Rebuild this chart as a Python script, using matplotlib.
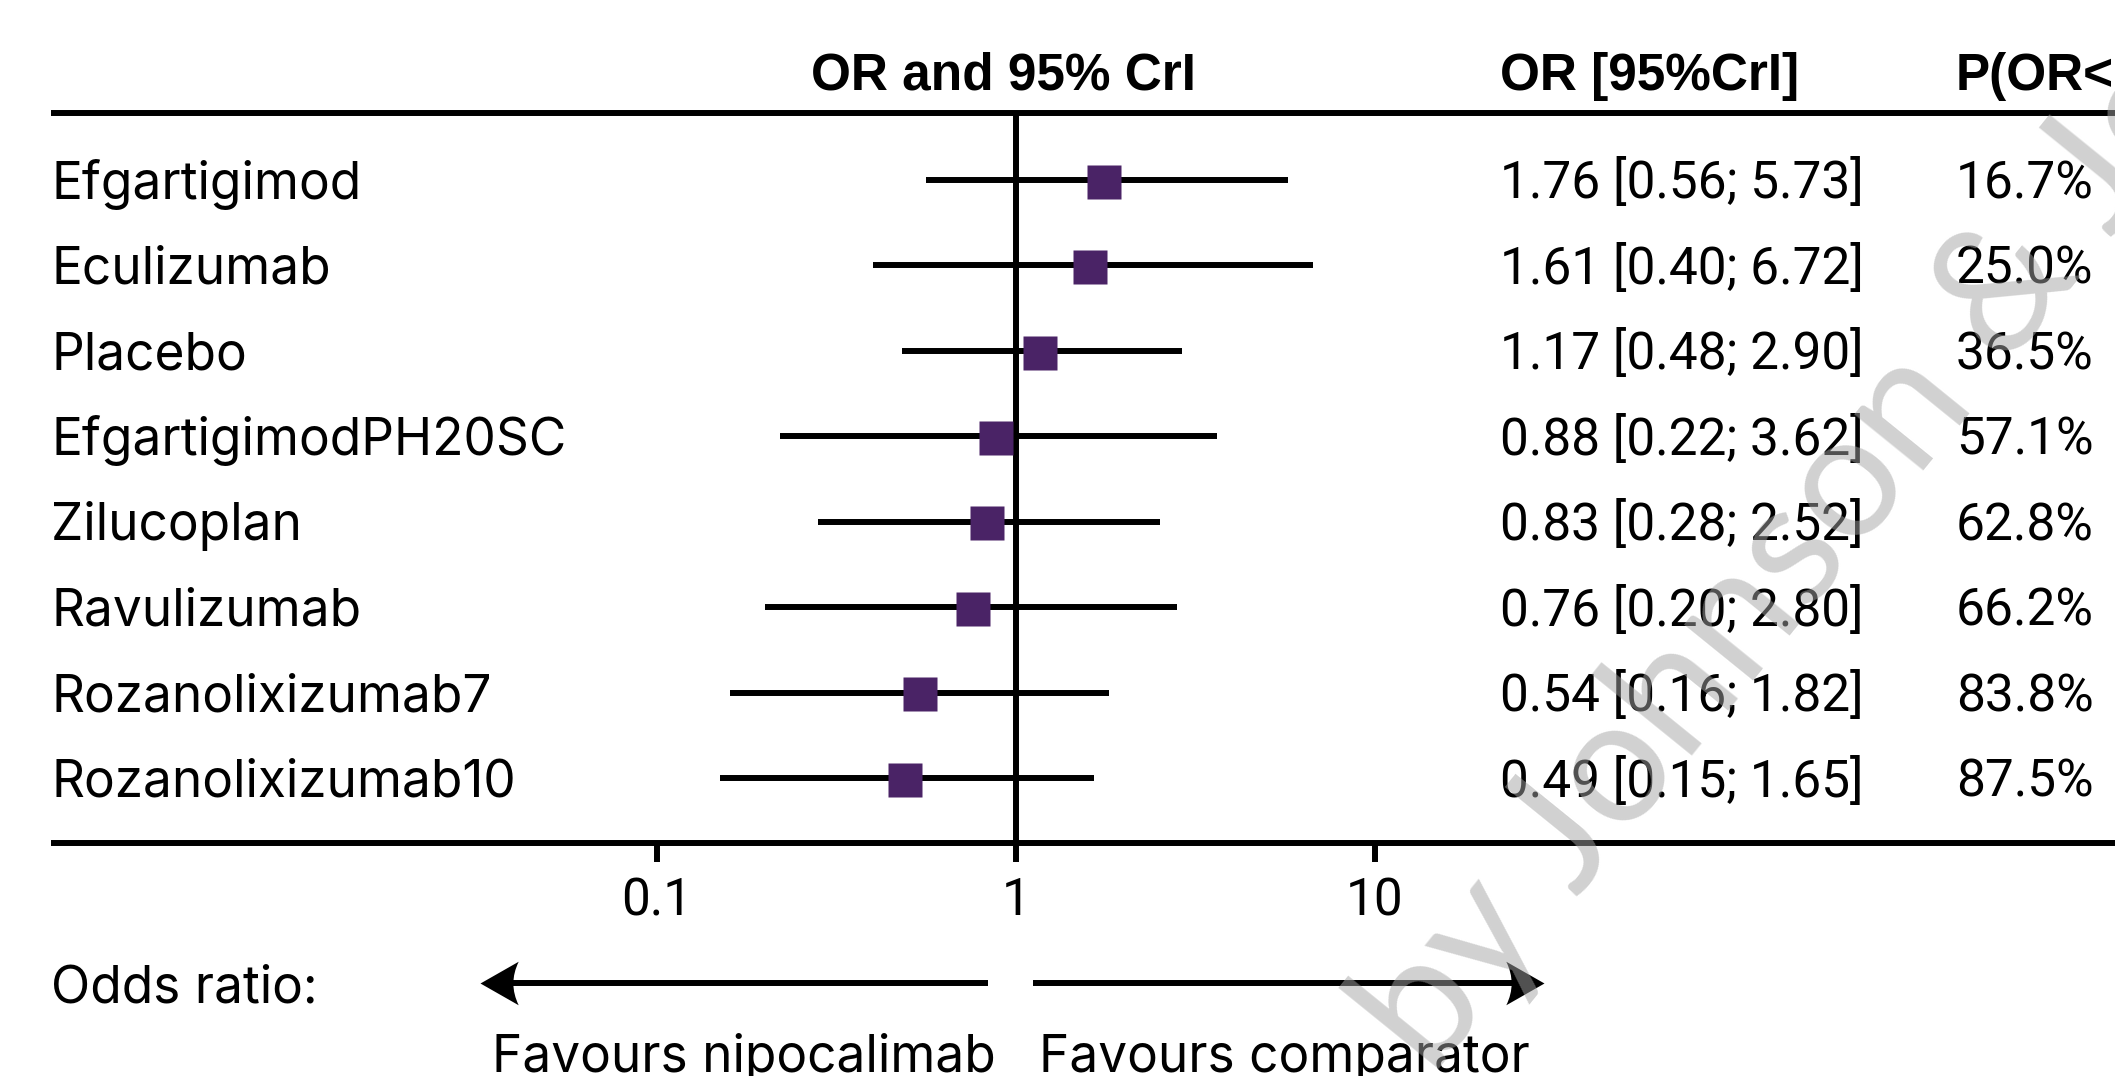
import numpy as np
import matplotlib
matplotlib.use("Agg")
import matplotlib.pyplot as plt
from matplotlib.path import Path

plt.rcParams['font.family'] = ['Roboto', 'DejaVu Sans']

# data
treatments = ['Efgartigimod', 'Eculizumab', 'Placebo', 'EfgartigimodPH20SC',
              'Zilucoplan', 'Ravulizumab', 'Rozanolixizumab7', 'Rozanolixizumab10']
odds_ratio = [1.76, 1.61, 1.17, 0.88, 0.83, 0.76, 0.54, 0.49]
cri_low = [0.56, 0.40, 0.48, 0.22, 0.28, 0.20, 0.16, 0.15]
cri_high = [5.73, 6.72, 2.90, 3.62, 2.52, 2.80, 1.82, 1.65]
p_below_1 = [16.7, 25.0, 36.5, 57.1, 62.8, 66.2, 83.8, 87.5]
x_ticks = [0.1, 1, 10]
x_tick_labels = ['0.1', '1', '10']

W, H = 2115, 1076
PURPLE = '#4A2366'
FS = 37
LW = 4.3
LABEL_FONT = ['Inter', 'DejaVu Sans']
HEAD_FONT = ['Liberation Sans', 'DejaVu Sans']

# pixel layout helpers: log axis with 1 at x=1016px, one decade = 359px
X1, DEC = 1016, 359
ROW0, ROWH = 180, 85.43


def ry(p):
    return (p - ROW0) / ROWH


def fx(p):
    return p / W


fig = plt.figure(figsize=(W / 100, H / 100), dpi=100)
ax = fig.add_axes([0, 0, 1, 1])
ax.set_xscale('log')
ax.set_xlim(10 ** (-X1 / DEC), 10 ** ((W - X1) / DEC))
ax.set_ylim(ry(H), ry(0))
ax.axis('off')

ty = ax.get_yaxis_transform()  # x in axes fraction, y in data
rows = np.arange(len(treatments))

# header
ax.text(fx(1003), ry(90), 'OR and 95% CrI', ha='center', va='baseline',
        fontsize=FS, fontweight='bold', family=HEAD_FONT, transform=ty)
ax.text(fx(1500), ry(90), 'OR [95%CrI]', ha='left', va='baseline',
        fontsize=FS, fontweight='bold', family=HEAD_FONT, transform=ty)
ax.text(fx(1956), ry(90), 'P(OR<1)', ha='left', va='baseline',
        fontsize=FS, fontweight='bold', family=HEAD_FONT, transform=ty)

# rules
for yy in (ry(113), ry(843)):
    ax.plot([fx(51), 1.0], [yy, yy], color='black', lw=LW, transform=ty,
            solid_capstyle='butt')

# reference line and ticks
ax.plot([1, 1], [ry(113), ry(843)], color='black', lw=LW, solid_capstyle='butt')
for t, lab in zip(x_ticks, x_tick_labels):
    ax.plot([t, t], [ry(843), ry(862)], color='black', lw=LW, solid_capstyle='butt')
    ax.text(t, ry(915), lab, ha='center', va='baseline', fontsize=FS)

# intervals and point estimates
ax.hlines(rows, cri_low, cri_high, color='black', lw=LW)
ax.plot(odds_ratio, rows + 0.02, ls='none', marker='s', ms=24.5,
        mfc=PURPLE, mec='none', zorder=3)

base = 18.5 / ROWH
for i, name in enumerate(treatments):
    ax.text(fx(51), i + base, name, ha='left', va='baseline', fontsize=FS,
            family=LABEL_FONT, transform=ty)
    ax.text(fx(1500), i + base,
            f'{odds_ratio[i]:.2f} [{cri_low[i]:.2f}; {cri_high[i]:.2f}]',
            ha='left', va='baseline', fontsize=FS, transform=ty)
    ax.text(fx(1956), i + base, f'{p_below_1[i]:.1f}%', ha='left', va='baseline',
            fontsize=FS, transform=ty)

# odds ratio direction arrows (concave arrow heads)
head_r = Path([(0, 0), (-1, 0.57), (-0.72, 0), (-1, -0.57), (0, 0)],
              [Path.MOVETO, Path.LINETO, Path.CURVE3, Path.CURVE3, Path.CLOSEPOLY])
head_l = Path([(0, 0), (1, 0.57), (0.72, 0), (1, -0.57), (0, 0)],
              [Path.MOVETO, Path.LINETO, Path.CURVE3, Path.CURVE3, Path.CLOSEPOLY])
ya = ry(983)
ax.plot([fx(988), fx(500)], [ya, ya], color='black', lw=LW, transform=ty,
        solid_capstyle='butt')
ax.plot([fx(1033), fx(1525)], [ya, ya], color='black', lw=LW, transform=ty,
        solid_capstyle='butt')
ax.plot([fx(480)], [ya], marker=head_l, ms=55, mfc='black', mec='none', transform=ty)
ax.plot([fx(1544)], [ya], marker=head_r, ms=55, mfc='black', mec='none', transform=ty)

ax.text(fx(51), ry(1002), 'Odds ratio:', ha='left', va='baseline', fontsize=FS,
        family=LABEL_FONT, transform=ty)
ax.text(fx(492), ry(1072), 'Favours nipocalimab', ha='left', va='baseline',
        fontsize=FS, family=LABEL_FONT, transform=ty)
ax.text(fx(1039), ry(1072), 'Favours comparator', ha='left', va='baseline',
        fontsize=FS, family=LABEL_FONT, transform=ty)

# watermark
fig.text(fx(1432), (H - 1078) / H, 'by Johnson & Johnson', rotation=51,
         rotation_mode='anchor', ha='left', va='baseline', fontsize=125,
         family=['Lato', 'DejaVu Sans'], color='#A4A4A4', alpha=0.5, zorder=10)

fig.savefig('out.png', dpi=100)
